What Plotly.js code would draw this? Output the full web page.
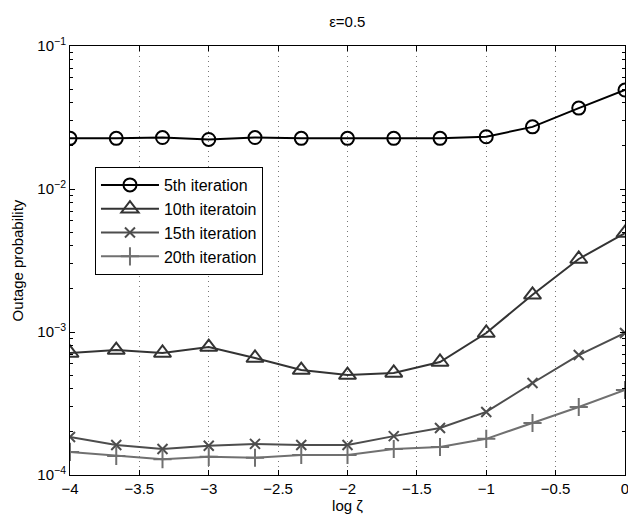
<!DOCTYPE html>
<html>
<head>
<meta charset="utf-8">
<script src="https://cdn.plot.ly/plotly-3.0.1.min.js"></script>
<style>html,body{margin:0;padding:0;background:#fff;}#chart{width:628px;height:520px;}</style>
</head>
<body>
<div id="chart"></div>
<script>
const logZeta = [-4, -3.6667, -3.3333, -3, -2.6667, -2.3333, -2, -1.6667, -1.3333, -1, -0.6667, -0.3333, 0];
const iter5  = [0.0226, 0.0226, 0.0229, 0.0222, 0.0229, 0.0226, 0.0226, 0.0226, 0.0226, 0.0232, 0.0272, 0.0368, 0.0492];
const iter10 = [7.13e-4, 7.48e-4, 7.13e-4, 7.85e-4, 6.58e-4, 5.42e-4, 5.0e-4, 5.17e-4, 6.17e-4, 9.84e-4, 1.82e-3, 3.24e-3, 4.92e-3];
const iter15 = [1.845e-4, 1.62e-4, 1.52e-4, 1.60e-4, 1.65e-4, 1.62e-4, 1.62e-4, 1.87e-4, 2.13e-4, 2.76e-4, 4.40e-4, 6.90e-4, 9.84e-4];
const iter20 = [1.45e-4, 1.36e-4, 1.29e-4, 1.34e-4, 1.32e-4, 1.38e-4, 1.38e-4, 1.52e-4, 1.57e-4, 1.79e-4, 2.31e-4, 2.99e-4, 3.93e-4];
const seriesNames = ['5th iteration', '10th iteratoin', '15th iteration', '20th iteration'];
const xTickVals = [-4, -3.5, -3, -2.5, -2, -1.5, -1, -0.5, 0];
const xTickText = ['\u22124', '\u22123.5', '\u22123', '\u22122.5', '\u22122', '\u22121.5', '\u22121', '\u22120.5', '0'];
const yTickVals = [1e-4, 1e-3, 1e-2, 1e-1];
const yTickText = ['10<sup>\u22124</sup>', '10<sup>\u22123</sup>', '10<sup>\u22122</sup>', '10<sup>\u22121</sup>'];
const minorDigits = [2, 3, 4, 5, 6, 7, 8, 9];

const yMinor = [];
yTickVals.slice(0, 3).forEach(d => minorDigits.forEach(m => yMinor.push(d * m)));

const styles = [
  {color: '#000000', symbol: 'circle-open', size: 13},
  {color: '#333333', symbol: 'triangle-up-open', size: 15},
  {color: '#4d4d4d', symbol: 'x-thin-open', size: 10},
  {color: '#707070', symbol: 'cross-thin-open', size: 13}
];
const ys = [iter5, iter10, iter15, iter20];
const data = ys.map((y, i) => ({
  x: logZeta, y: y, type: 'scatter', mode: 'lines+markers', name: seriesNames[i],
  line: {color: styles[i].color, width: 2},
  marker: {symbol: styles[i].symbol, size: styles[i].size, color: styles[i].color,
           line: {color: styles[i].color, width: 2}}
}));

const font = 'Liberation Sans, Arial, sans-serif';
const layout = {
  width: 628, height: 520,
  margin: {l: 70, r: 3, t: 46, b: 45},
  paper_bgcolor: '#fff', plot_bgcolor: '#fff',
  font: {family: font, size: 15, color: '#000'},
  title: {text: '\u03b5=0.5', x: 0.553, xanchor: 'center', y: 0.958, yanchor: 'middle', yref: 'container',
          font: {family: font, size: 15, color: '#000'}},
  xaxis: {
    range: [-4, 0], tickvals: xTickVals, ticktext: xTickText,
    ticks: 'inside', ticklen: 5, tickcolor: '#000', mirror: 'ticks',
    showline: true, linecolor: '#000', linewidth: 1,
    showgrid: true, gridcolor: '#777', griddash: '1px,4px', gridwidth: 1,
    zeroline: false, tickfont: {size: 15}, ticklabeloverflow: 'allow',
    title: {text: 'log \u03b6', font: {size: 15}, standoff: 4}
  },
  yaxis: {
    type: 'log', range: [-4, -1], tickvals: yTickVals, ticktext: yTickText,
    ticks: 'inside', ticklen: 5, tickcolor: '#000', mirror: 'ticks',
    showline: true, linecolor: '#000', linewidth: 1,
    showgrid: false, zeroline: false, tickfont: {size: 15},
    minor: {tickvals: yMinor, ticks: 'inside', ticklen: 3, tickcolor: '#000', showgrid: false},
    title: {text: 'Outage probability', font: {size: 15}, standoff: 10}
  },
  showlegend: true,
  legend: {
    x: 0.045, y: 0.718, xanchor: 'left', yanchor: 'top',
    bgcolor: '#fff', bordercolor: '#000', borderwidth: 1,
    font: {family: font, size: 16, color: '#000'},
    itemwidth: 58, tracegroupgap: 0
  }
};
Plotly.newPlot('chart', data, layout, {staticPlot: true, displayModeBar: false});
</script>
</body>
</html>
